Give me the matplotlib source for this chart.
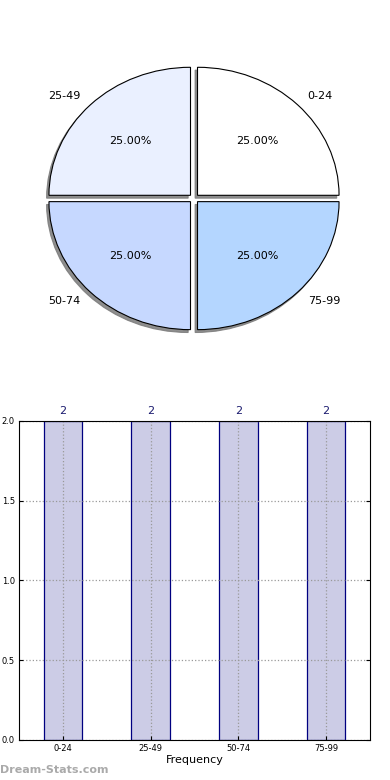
import matplotlib
matplotlib.use("Agg")
import matplotlib.pyplot as plt

categories = ["0-24", "25-49", "50-74", "75-99"]
counts = [2, 2, 2, 2]
pie_colors = ["#ffffff", "#eaf0ff", "#c6d8ff", "#b4d6ff"]
y_ticks = [0.0, 0.5, 1.0, 1.5, 2.0]

fig = plt.figure(figsize=(3.9, 7.8), dpi=100)

# pie on top, stretched a bit wider than tall like the original
ax_pie = fig.add_axes([0.0438, 0.5404, 0.9073, 0.4103])
ax_pie.pie(counts, labels=categories, colors=pie_colors, autopct="%.2f%%",
           explode=[0.035] * len(counts),
           shadow={"ox": -0.012, "oy": -0.016, "facecolor": "#7a7a7a",
                   "edgecolor": "#7a7a7a", "alpha": 0.85},
           startangle=0, counterclock=True, labeldistance=1.1, pctdistance=0.6,
           wedgeprops={"edgecolor": "black", "linewidth": 0.8},
           textprops={"fontsize": 8})
ax_pie.set_aspect("auto")
ax_pie.set_xlim(-1.25, 1.25)
ax_pie.set_ylim(-1.25, 1.25)
ax_pie.axis("off")

# frequency bars
ax = fig.add_axes([0.0487, 0.0513, 0.9, 0.409])
pos = list(range(len(categories)))
ax.bar(pos, counts, width=0.44, color="#ccccE6", edgecolor="#000080", linewidth=0.9, zorder=1)
for p, c in zip(pos, counts):
    ax.text(p, c + 0.03, str(c), ha="center", va="bottom", fontsize=8, color="#1a1a6e")
ax.set_xlim(-0.5, 3.5)
ax.set_ylim(0, 2.0)
ax.set_xticks(pos)
ax.set_xticklabels(categories)
ax.set_yticks(y_ticks)
ax.set_yticklabels([f"{t:.1f}" for t in y_ticks])
ax.tick_params(labelsize=6, direction="in", length=3, top=False, right=True, pad=3)
ax.grid(True, linestyle=":", color="#999999", linewidth=0.9, zorder=2)
ax.set_axisbelow(False)
for sp in ax.spines.values():
    sp.set_zorder(5)
ax.set_xlabel("Frequency", fontsize=8, labelpad=1)

fig.text(0.0, 0.0128, "Dream-Stats.com", fontsize=8, color="#aaaaaa", fontweight="bold", ha="left", va="center")

fig.savefig("out.png", dpi=100)
